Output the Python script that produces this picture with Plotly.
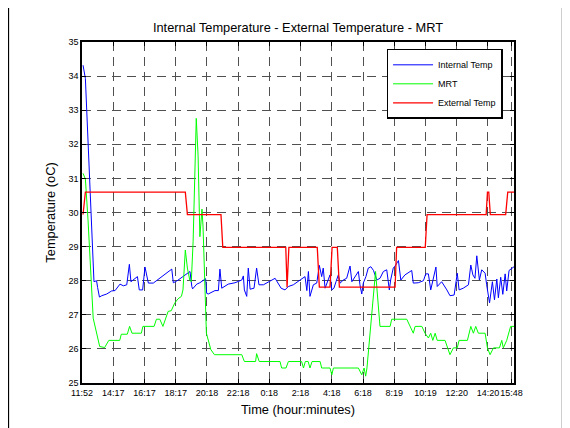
import plotly.graph_objects as go

# ---------------- data (x = sample index, 12 samples per tick step) ----------------
tick_pos = [0, 12, 24, 36, 48, 60, 72, 84, 96, 108, 120, 132, 144, 156, 165]
tick_labels = ["11:52", "14:17", "16:17", "18:17", "20:18", "22:18", "0:18", "2:18",
               "4:18", "6:18", "8:19", "10:19", "12:20", "14:20", "15:48"]

internal_x = [0.4, 1.3, 4.6, 5.6, 6.0, 6.7, 7.6, 9.5, 11.4, 12.7, 14.6, 15.9, 17.2, 18.2, 18.8,
              20.0, 21.3, 22.0, 23.3, 24.2, 25.5, 27.4, 30.0, 33.8, 34.5, 35.1, 36.4, 38.9, 41.5,
              42.2, 42.5, 44.1, 45.3, 47.5, 47.9, 48.5, 51.1, 52.4, 53.0, 53.7, 56.2, 58.8, 61.4,
              62.0, 62.4, 63.3, 63.9, 64.6, 66.1, 67.1, 68.0, 69.7, 72.3, 74.2, 76.5, 78.0, 79.3,
              81.2, 83.8, 85.7, 86.4, 87.0, 87.6, 88.9, 90.2, 91.2, 92.1, 92.7, 93.4, 94.7, 95.3,
              96.0, 96.8, 97.6, 98.5, 99.2, 100.4, 101.7, 103.0, 103.7, 104.9, 106.2, 106.8, 107.5,
              108.1, 109.1, 110.0, 111.0, 112.0, 113.3, 114.5, 115.8, 117.1, 118.1, 118.6, 119.6,
              120.3, 121.6, 122.5, 124.1, 126.7, 127.3, 129.2, 131.2, 132.1, 133.1, 134.0, 136.0,
              136.5, 138.2, 140.2, 141.4, 143.0, 144.2, 144.9, 146.5, 148.5, 149.4, 150.2, 151.0,
              151.7, 152.7, 153.6, 154.9, 155.5, 156.6, 157.7, 158.5, 159.4, 160.0, 160.9, 161.7,
              162.6, 163.2, 164.1, 164.9, 166.0]
internal_t = [34.32, 33.93, 27.97, 28.00, 27.80, 27.52, 27.56, 27.61, 27.70, 27.71, 27.90, 27.85,
              27.88, 28.48, 27.97, 28.04, 28.12, 27.73, 27.73, 28.40, 27.93, 27.93, 28.07, 28.30,
              28.34, 27.94, 27.99, 28.14, 28.27, 27.83, 27.76, 27.90, 27.94, 28.06, 27.63, 27.61,
              27.71, 27.71, 28.34, 27.78, 27.90, 27.94, 28.02, 28.14, 27.73, 27.54, 28.37, 27.75,
              27.78, 28.37, 27.88, 27.88, 28.00, 28.07, 27.78, 27.73, 27.83, 27.88, 28.02, 28.12,
              27.71, 28.27, 27.54, 27.88, 27.93, 28.45, 28.12, 28.37, 27.78, 28.02, 28.17, 27.73,
              27.78, 27.97, 28.17, 27.93, 28.02, 28.07, 28.43, 27.97, 28.12, 28.27, 27.88, 27.61,
              27.93, 28.12, 28.37, 28.41, 28.30, 28.02, 28.07, 28.27, 28.32, 27.73, 28.02, 28.37,
              28.43, 28.59, 28.02, 28.17, 28.30, 27.93, 27.94, 28.00, 28.20, 28.20, 27.73, 28.40,
              27.83, 27.97, 27.73, 27.56, 27.58, 28.22, 27.73, 27.78, 27.88, 28.46, 28.17, 28.07,
              28.73, 28.02, 28.32, 28.22, 27.88, 27.35, 27.97, 27.44, 28.05, 27.50, 28.10, 27.60,
              28.20, 27.70, 28.30, 28.35, 28.41]

mrt_x = [0.4, 1.3, 2.3, 3.5, 4.3, 6.8, 8.7, 10.3, 14.5, 15.1, 17.4, 18.3, 19.2, 22.8, 23.4, 27.7,
         28.6, 29.9, 31.1, 33.1, 34.3, 35.6, 36.9, 38.2, 38.8, 39.7, 40.5, 41.4, 42.0, 42.7, 43.9,
         44.6, 45.3, 46.1, 46.5, 47.8, 49.5, 50.9, 61.4, 62.4, 66.7, 67.1, 68.1, 76.1, 76.7, 78.4,
         79.3, 84.4, 85.1, 85.8, 86.9, 87.6, 88.4, 91.5, 92.1, 95.3, 96.0, 96.6, 106.2, 107.5,
         108.4, 109.0, 109.5, 112.8, 114.5, 118.4, 119.0, 124.8, 126.1, 127.3, 128.0, 130.6,
         131.8, 133.1, 134.0, 134.8, 135.7, 136.5, 139.5, 141.4, 142.7, 144.2, 144.9, 148.1,
         149.4, 150.4, 151.3, 152.3, 154.9, 155.8, 156.8, 158.1, 160.4, 161.3, 161.9, 163.2,
         164.7, 166.0]
mrt_t = [31.15, 30.98, 29.80, 28.20, 26.90, 26.07, 26.04, 26.25, 26.25, 26.43, 26.43, 26.66,
         26.46, 26.46, 26.66, 26.66, 26.87, 26.87, 26.66, 27.10, 27.12, 27.34, 27.47, 27.54,
         27.73, 28.90, 28.37, 28.02, 27.97, 29.15, 32.76, 31.68, 29.29, 30.10, 29.60, 26.46,
         25.98, 25.83, 25.83, 25.63, 25.63, 25.86, 25.63, 25.63, 25.44, 25.44, 25.63, 25.63,
         25.44, 25.63, 25.63, 25.44, 25.63, 25.63, 25.44, 25.44, 25.24, 25.44, 25.44, 25.24,
         25.44, 25.20, 25.44, 28.27, 26.66, 26.66, 26.87, 26.87, 26.66, 26.46, 26.66, 26.66,
         26.46, 26.32, 26.46, 26.25, 26.46, 26.25, 26.25, 25.83, 26.03, 26.03, 26.25, 26.25,
         26.66, 26.46, 26.66, 26.46, 26.46, 26.03, 25.83, 26.03, 26.03, 26.25, 26.03, 26.25,
         26.66, 26.66]

external_x = [0.4, 1.3, 39.7, 40.5, 53.4, 54.1, 78.3, 78.8, 79.5, 90.4, 91.2, 95.3, 96.1, 98.1,
              98.9, 120.3, 120.9, 131.9, 132.6, 155.3, 155.8, 156.3, 156.9, 162.8, 163.6, 166.0]
external_t = [29.94, 30.60, 30.60, 29.94, 29.94, 28.98, 28.98, 27.81, 28.98, 28.98, 27.81, 27.81,
              28.98, 28.98, 27.81, 27.81, 28.98, 28.98, 29.94, 29.94, 30.60, 30.60, 29.94, 29.94,
              30.60, 30.60]

FONT = "Liberation Sans, Arial, sans-serif"

fig = go.Figure()
fig.add_trace(go.Scatter(x=internal_x, y=internal_t, mode="lines", name="Internal Temp",
                         line=dict(color="#0000ff", width=1)))
fig.add_trace(go.Scatter(x=mrt_x, y=mrt_t, mode="lines", name="MRT",
                         line=dict(color="#00ff00", width=1)))
fig.add_trace(go.Scatter(x=external_x, y=external_t, mode="lines", name="External Temp",
                         line=dict(color="#ff0000", width=1.3)))

axis_common = dict(
    showline=True, linecolor="black", linewidth=1.5, mirror="ticks",
    ticks="inside", ticklen=4, tickwidth=1, tickcolor="black",
    showgrid=True, gridcolor="#505050", gridwidth=1.2, griddash="9px,6px",
    zeroline=False, tickfont=dict(family=FONT, size=9, color="black"),
)

fig.update_xaxes(range=[0, 166], tickmode="array", tickvals=tick_pos, ticktext=tick_labels,
                 tickangle=0,
                 title=dict(text="Time (hour:minutes)", font=dict(family=FONT, size=12.8, color="black"),
                            standoff=8),
                 **axis_common)
fig.update_yaxes(range=[25, 35], dtick=1, tick0=25,
                 title=dict(text="Temperature (oC)", font=dict(family=FONT, size=12.8, color="black"),
                            standoff=10),
                 **axis_common)

# page body has an 8px margin, so the figure is 8px smaller and margins shifted
fig.update_layout(
    width=562, height=420,
    margin=dict(l=74, r=56, t=34, b=45),
    paper_bgcolor="white", plot_bgcolor="white",
    title=dict(text="Internal Temperature - External Temperature - MRT",
               font=dict(family=FONT, size=12.8, color="black"),
               x=0.5, xref="paper", y=1 - 20 / 420, yanchor="middle"),
    showlegend=True,
    legend=dict(x=0.705, y=0.98, xanchor="left", yanchor="top",
                bgcolor="white", bordercolor="black", borderwidth=1.5, itemwidth=40,
                font=dict(family=FONT, size=9, color="black"), tracegroupgap=0),
    shapes=[dict(type="rect", xref="paper", yref="paper",
                 x0=-0.171, x1=1.113, y0=-0.17, y1=1.1026,
                 line=dict(color="black", width=2), fillcolor="rgba(0,0,0,0)", layer="below")],
)

fig.write_html("out.html")
